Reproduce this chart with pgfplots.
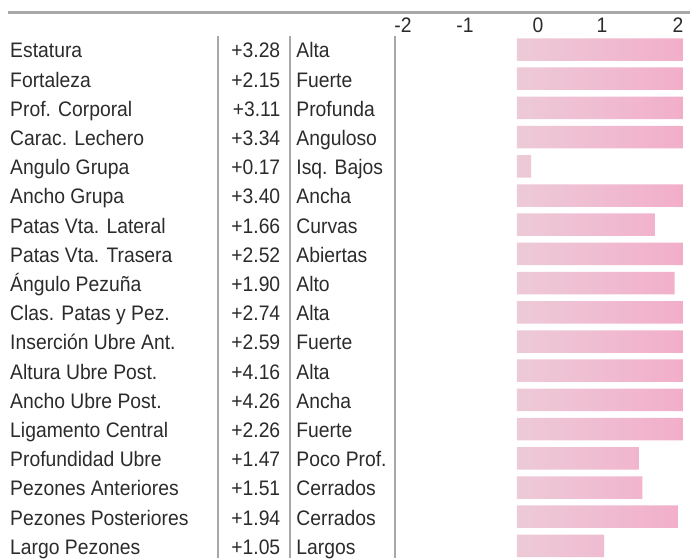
\documentclass[border=0pt]{standalone}
\usepackage{fontspec}
\setmainfont{Liberation Sans}[FakeStretch=0.92]
\usepackage{pgfplots}
\usepackage{pgfplotstable}
\pgfplotsset{compat=1.18}
\definecolor{txt}{HTML}{2B2B2B}
\definecolor{rule}{HTML}{A8A8A8}
\definecolor{barL}{HTML}{EDCAD8}
\definecolor{barR}{HTML}{F2AEC9}
\pgfplotstableread{
idx val
0 3.28
1 2.15
2 3.11
3 3.34
4 0.17
5 3.40
6 1.66
7 2.52
8 1.90
9 2.74
10 2.59
11 4.16
12 4.26
13 2.26
14 1.47
15 1.51
16 1.94
17 1.05
}\datatable
\tikzset{
  nm/.style={anchor=base west, yshift=-8.3pt, inner sep=0pt},
  vl/.style={anchor=base east, yshift=-8.3pt, inner sep=0pt},
  tk/.style={anchor=base, yshift=-7.5pt, inner sep=0pt},
}
\begin{document}
\begin{tikzpicture}
\useasboundingbox (0,0) rectangle (697pt,558pt);
\begin{axis}[
  at={(0,0)}, anchor=south west,
  scale only axis, width=697pt, height=558pt,
  xmin=-6.229, xmax=2.169,
  ymin=-1.695, ymax=17.414, y dir=reverse,
  axis lines=none,
  clip=false,
  font=\fontsize{21}{24}\selectfont\color{txt},
]
\addplot[xbar, bar width=22.5pt, draw=none, left color=barL, right color=barR,
  x filter/.expression={min(x,2)}] table[x=val, y=idx] {\datatable};
% rules
\draw[rule, line width=3pt] (axis cs:-6.133,-1.284) -- (axis cs:2.084,-1.284);
\draw[rule, line width=1.2pt] (axis cs:-3.602,-0.462) -- (axis cs:-3.602,17.414);
\draw[rule, line width=1.2pt] (axis cs:-2.735,-0.462) -- (axis cs:-2.735,17.414);
\draw[rule, line width=1.2pt] (axis cs:-1.470,-0.462) -- (axis cs:-1.470,17.414);
% scale labels
\node[tk] at (axis cs:-1.373,-0.839) {-2};
\node[tk] at (axis cs:-0.627,-0.839) {-1};
\node[tk] at (axis cs:0.253,-0.839) {0};
\node[tk] at (axis cs:1.024,-0.839) {1};
\node[tk] at (axis cs:1.940,-0.839) {2};
% row labels
\node[nm] at (axis cs:-6.108,0) {Estatura};
\node[nm] at (axis cs:-6.108,1) {Fortaleza};
\node[nm] at (axis cs:-6.108,2) {Prof. Corporal};
\node[nm] at (axis cs:-6.108,3) {Carac. Lechero};
\node[nm] at (axis cs:-6.108,4) {Angulo Grupa};
\node[nm] at (axis cs:-6.108,5) {Ancho Grupa};
\node[nm] at (axis cs:-6.108,6) {Patas Vta. Lateral};
\node[nm] at (axis cs:-6.108,7) {Patas Vta. Trasera};
\node[nm] at (axis cs:-6.108,8) {Ángulo Pezuña};
\node[nm] at (axis cs:-6.108,9) {Clas. Patas y Pez.};
\node[nm] at (axis cs:-6.108,10) {Inserción Ubre Ant.};
\node[nm] at (axis cs:-6.108,11) {Altura Ubre Post.};
\node[nm] at (axis cs:-6.108,12) {Ancho Ubre Post.};
\node[nm] at (axis cs:-6.108,13) {Ligamento Central};
\node[nm] at (axis cs:-6.108,14) {Profundidad Ubre};
\node[nm] at (axis cs:-6.108,15) {Pezones Anteriores};
\node[nm] at (axis cs:-6.108,16) {Pezones Posteriores};
\node[nm] at (axis cs:-6.108,17) {Largo Pezones};
% values
\node[vl] at (axis cs:-2.85,0) {+3.28};
\node[vl] at (axis cs:-2.85,1) {+2.15};
\node[vl] at (axis cs:-2.85,2) {+3.11};
\node[vl] at (axis cs:-2.85,3) {+3.34};
\node[vl] at (axis cs:-2.85,4) {+0.17};
\node[vl] at (axis cs:-2.85,5) {+3.40};
\node[vl] at (axis cs:-2.85,6) {+1.66};
\node[vl] at (axis cs:-2.85,7) {+2.52};
\node[vl] at (axis cs:-2.85,8) {+1.90};
\node[vl] at (axis cs:-2.85,9) {+2.74};
\node[vl] at (axis cs:-2.85,10) {+2.59};
\node[vl] at (axis cs:-2.85,11) {+4.16};
\node[vl] at (axis cs:-2.85,12) {+4.26};
\node[vl] at (axis cs:-2.85,13) {+2.26};
\node[vl] at (axis cs:-2.85,14) {+1.47};
\node[vl] at (axis cs:-2.85,15) {+1.51};
\node[vl] at (axis cs:-2.85,16) {+1.94};
\node[vl] at (axis cs:-2.85,17) {+1.05};
% descriptions
\node[nm] at (axis cs:-2.66,0) {Alta};
\node[nm] at (axis cs:-2.66,1) {Fuerte};
\node[nm] at (axis cs:-2.66,2) {Profunda};
\node[nm] at (axis cs:-2.66,3) {Anguloso};
\node[nm] at (axis cs:-2.66,4) {Isq. Bajos};
\node[nm] at (axis cs:-2.66,5) {Ancha};
\node[nm] at (axis cs:-2.66,6) {Curvas};
\node[nm] at (axis cs:-2.66,7) {Abiertas};
\node[nm] at (axis cs:-2.66,8) {Alto};
\node[nm] at (axis cs:-2.66,9) {Alta};
\node[nm] at (axis cs:-2.66,10) {Fuerte};
\node[nm] at (axis cs:-2.66,11) {Alta};
\node[nm] at (axis cs:-2.66,12) {Ancha};
\node[nm] at (axis cs:-2.66,13) {Fuerte};
\node[nm] at (axis cs:-2.66,14) {Poco Prof.};
\node[nm] at (axis cs:-2.66,15) {Cerrados};
\node[nm] at (axis cs:-2.66,16) {Cerrados};
\node[nm] at (axis cs:-2.66,17) {Largos};
\end{axis}
\end{tikzpicture}
\end{document}
